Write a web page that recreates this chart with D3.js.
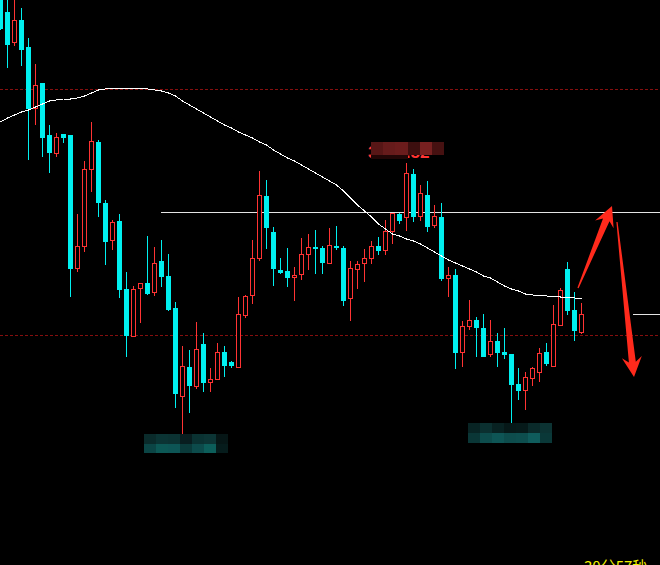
<!DOCTYPE html>
<html>
<head>
<meta charset="utf-8">
<script src="https://cdn.jsdelivr.net/npm/d3@7/dist/d3.min.js"></script>
<style>
  html, body { margin: 0; padding: 0; background: #000; overflow: hidden; }
  svg { display: block; }
</style>
</head>
<body>
<svg id="chart" width="660" height="565"></svg>
<script>
// 30-minute bars, oldest first
const opens  = [3503,3488,3457,3480,3453,3391,3417,3365,3346,3366,3365,3231,3253,3330,3358,3297,3259,3279,3211,3163,
                3211,3217,3207,3239,3224,3192,3103,3133,3113,3156,3117,3120,3148,3138,3132,3184,3204,3241,3304,3268,
                3230,3229,3222,3225,3245,3253,3252,3236,3254,3252,3201,3230,3236,3241,3254,3249,3268,3286,3282,3326,
                3283,3305,3274,3283,3221,3225,3147,3173,3180,3172,3145,3159,3148,3146,3116,3109,3121,3127,3148,3133,
                3174,3231,3190,3167];
const highs  = [3510,3502,3502,3492,3462,3436,3417,3375,3367,3366,3365,3286,3339,3378,3360,3300,3280,3286,3228,3214,
                3217,3264,3253,3260,3246,3198,3154,3150,3178,3167,3132,3157,3154,3139,3203,3205,3260,3329,3320,3273,
                3242,3252,3233,3262,3266,3270,3254,3272,3274,3254,3239,3239,3251,3259,3263,3280,3287,3287,3337,3331,
                3315,3319,3295,3297,3233,3231,3179,3200,3183,3186,3180,3167,3172,3146,3132,3128,3133,3152,3157,3195,
                3212,3238,3208,3197];
const lows   = [3470,3432,3454,3434,3340,3375,3343,3327,3343,3357,3203,3228,3248,3308,3283,3235,3250,3202,3143,3163,
                3177,3205,3204,3213,3189,3092,3066,3087,3111,3108,3108,3120,3123,3132,3132,3182,3196,3239,3251,3214,
                3226,3213,3199,3220,3230,3226,3226,3236,3250,3194,3179,3211,3218,3236,3245,3245,3256,3276,3269,3278,
                3279,3268,3272,3219,3203,3131,3133,3170,3143,3143,3143,3133,3141,3077,3100,3090,3114,3118,3134,3133,
                3174,3185,3159,3166];
const closes = [3471,3455,3480,3450,3391,3415,3362,3347,3363,3362,3231,3254,3331,3359,3297,3258,3278,3210,3164,3211,
                3217,3206,3237,3223,3190,3106,3134,3114,3151,3117,3121,3148,3134,3134,3186,3204,3242,3305,3272,3231,
                3227,3222,3225,3246,3253,3251,3237,3255,3252,3199,3232,3236,3242,3254,3249,3269,3287,3279,3327,3283,
                3307,3273,3284,3221,3225,3147,3174,3180,3172,3143,3159,3147,3145,3115,3109,3123,3132,3147,3136,3176,
                3210,3189,3169,3186];
// long moving average line
const movingAvg = [3378,3382,3385,3388,3390,3393,3396,3399,3400,3401,3401,3402,3404,3407,3410,3411,3411.5,3411.5,3411.5,3411.5,
                   3411.5,3411,3410,3409,3407,3404,3399,3395,3391,3387,3383,3379,3375,3372,3368,3365,3362,3358,3355,3350,
                   3346,3342,3339,3335,3331,3327,3323,3319,3315,3309,3302,3295,3289,3283,3276,3271,3266,3264,3261,3259,
                   3256,3252,3248,3244,3240,3237,3234,3231,3228,3224,3222,3218,3214,3211,3209,3206,3205,3204.5,3204,3203.5,
                   3203,3203,3202,3201];
// dashed reference levels and the resistance line drawn from bar 23
const dashedLevels = [3411, 3165];
const resistance = { from: 23, price: 3288 };
// labels on the swing high / lows (masked)
const swingLabels = ["3337.52", "3066.20", "3077.40"];
const clockText = "30分57秒";
// hand-drawn forecast arrows, in bar index / price units
const arrowUp   = { from: [82.5, 3212], to: [87.36, 3294] };
const arrowDown = { from: [88.07, 3278], to: [90.5, 3123] };

const W = 660, H = 565;
const UP = "#ff3333", DOWN = "#00f0f0";

const svg = d3.select("#chart");
svg.append("rect").attr("width", W).attr("height", H).attr("fill", "#000");

const x = d3.scaleLinear().domain([0, 83]).range([0.5, 581.5]);
const y = d3.scaleLinear().domain([2935, 3500]).range([H, 0]);

const bars = opens.map((o, i) => ({ i, o, h: highs[i], l: lows[i], c: closes[i] }));

// dashed levels
svg.append("g").selectAll("line").data(dashedLevels).join("line")
  .attr("x1", 0).attr("x2", W)
  .attr("y1", d => Math.round(y(d)) + 0.5).attr("y2", d => Math.round(y(d)) + 0.5)
  .attr("stroke", "#860f0f").attr("stroke-width", 1).attr("stroke-dasharray", "3,2")
  .attr("shape-rendering", "crispEdges");

// resistance line
svg.append("line")
  .attr("x1", x(resistance.from) - 0.5).attr("x2", W)
  .attr("y1", Math.round(y(resistance.price)) + 0.5).attr("y2", Math.round(y(resistance.price)) + 0.5)
  .attr("stroke", "#e4e4e4").attr("stroke-width", 1).attr("shape-rendering", "crispEdges");

// last-price marker
const lastClose = closes[closes.length - 1];
svg.append("line")
  .attr("x1", 633).attr("x2", W)
  .attr("y1", Math.round(y(lastClose)) + 0.5).attr("y2", Math.round(y(lastClose)) + 0.5)
  .attr("stroke", "#e4e4e4").attr("stroke-width", 1).attr("shape-rendering", "crispEdges");

// candles
const g = svg.append("g").attr("shape-rendering", "crispEdges");
const down = bars.filter(d => d.c < d.o || (d.c === d.o && d.i === 0));
const up = bars.filter(d => !(d.c < d.o || (d.c === d.o && d.i === 0)));

const gd = g.append("g");
gd.selectAll("line").data(down).join("line")
  .attr("x1", d => x(d.i)).attr("x2", d => x(d.i))
  .attr("y1", d => y(d.h)).attr("y2", d => y(d.l))
  .attr("stroke", DOWN).attr("stroke-width", 1);
gd.selectAll("rect").data(down).join("rect")
  .attr("x", d => x(d.i) - 2.5).attr("width", 5)
  .attr("y", d => y(d.o))
  .attr("height", d => Math.max(1, y(d.c) - y(d.o)))
  .attr("fill", DOWN);

const gu = g.append("g");
gu.selectAll("line.hi").data(up).join("line").attr("class", "hi")
  .attr("x1", d => x(d.i)).attr("x2", d => x(d.i))
  .attr("y1", d => y(d.h)).attr("y2", d => y(d.c))
  .attr("stroke", UP).attr("stroke-width", 1);
gu.selectAll("line.lo").data(up).join("line").attr("class", "lo")
  .attr("x1", d => x(d.i)).attr("x2", d => x(d.i))
  .attr("y1", d => y(d.o)).attr("y2", d => y(d.l))
  .attr("stroke", UP).attr("stroke-width", 1);
gu.selectAll("rect").data(up).join("rect")
  .attr("x", d => x(d.i) - 2).attr("width", 4)
  .attr("y", d => y(d.c) + 0.5)
  .attr("height", d => Math.max(1, y(d.o) - y(d.c) - 1))
  .attr("fill", "#000").attr("stroke", UP).attr("stroke-width", 1);

// moving average
svg.append("path")
  .datum(movingAvg)
  .attr("d", d3.line().x((d, i) => x(i)).y(d => y(d)))
  .attr("fill", "none").attr("stroke", "#ffffff").attr("stroke-width", 1)
  .attr("shape-rendering", "crispEdges");

// masked price labels: text under a mosaic of blocks
function mosaic(x0, y0, cw, ch, rows) {
  const mg = svg.append("g").attr("shape-rendering", "crispEdges");
  rows.forEach((row, r) => row.forEach((col, c) => {
    mg.append("rect").attr("x", x0 + c * cw).attr("y", y0 + r * ch)
      .attr("width", cw).attr("height", ch).attr("fill", col);
  }));
}

// swing high label
svg.append("text").attr("x", 368).attr("y", 158)
  .attr("font-family", "Liberation Sans, Arial, sans-serif").attr("font-weight", "bold")
  .attr("font-size", 17).attr("fill", UP).text(swingLabels[0]);
mosaic(371, 142, 12.2, 13, [["#571616", "#661b1b", "#6b1c1c", "#3d0f0f", "#772020", "#461111"]]);
svg.append("rect").attr("x", 371).attr("y", 155).attr("width", 37).attr("height", 4).attr("fill", "#220606");

// swing low labels
svg.append("text").attr("x", 146).attr("y", 451)
  .attr("font-family", "Liberation Sans, Arial, sans-serif").attr("font-weight", "bold")
  .attr("font-size", 17).attr("fill", DOWN).text(swingLabels[1]);
mosaic(144, 434, 12, 9.5, [
  ["#0a2b2b", "#0b3434", "#0b3232", "#081d1f", "#0a3232", "#0c3535", "#061616"],
  ["#0b4545", "#0c5855", "#0d5555", "#0a3a3a", "#0c4b4b", "#0c5e5a", "#061c1c"]
]);

svg.append("text").attr("x", 470).attr("y", 441)
  .attr("font-family", "Liberation Sans, Arial, sans-serif").attr("font-weight", "bold")
  .attr("font-size", 17).attr("fill", DOWN).text(swingLabels[2]);
mosaic(468, 423, 12, 10, [
  ["#082424", "#0b3030", "#082222", "#061818", "#061a1a", "#0a2a2a", "#0c3333"],
  ["#0a3636", "#0d4c4c", "#0e5555", "#0d4c4c", "#0d4e4e", "#0f5c5c", "#0a3838"]
]);

// forecast arrows
function arrowPath(a) {
  const p0 = [x(a.from[0]), y(a.from[1])], p1 = [x(a.to[0]), y(a.to[1])];
  const dx = p1[0] - p0[0], dy = p1[1] - p0[1];
  const len = Math.hypot(dx, dy);
  const ux = dx / len, uy = dy / len, nx = -uy, ny = ux;
  const headLen = 20, neckIn = 15, headHalf = 10, neckHalf = 3.5, tailHalf = 0.6;
  const at = (t, s) => [p0[0] + ux * t + nx * s, p0[1] + uy * t + ny * s];
  const pts = [
    at(0, tailHalf), at(len - neckIn, neckHalf), at(len - headLen, headHalf),
    p1,
    at(len - headLen, -headHalf), at(len - neckIn, -neckHalf), at(0, -tailHalf)
  ];
  return "M" + pts.map(p => p[0].toFixed(1) + "," + p[1].toFixed(1)).join("L") + "Z";
}
svg.append("g").selectAll("path").data([arrowUp, arrowDown]).join("path")
  .attr("d", arrowPath).attr("fill", "#ff2a1c");

// clock text at the lower right
svg.append("text").attr("x", 584).attr("y", 572)
  .attr("font-family", "Noto Sans CJK SC, sans-serif").attr("font-size", 15)
  .attr("fill", "#f2f200").text(clockText);
</script>
</body>
</html>
